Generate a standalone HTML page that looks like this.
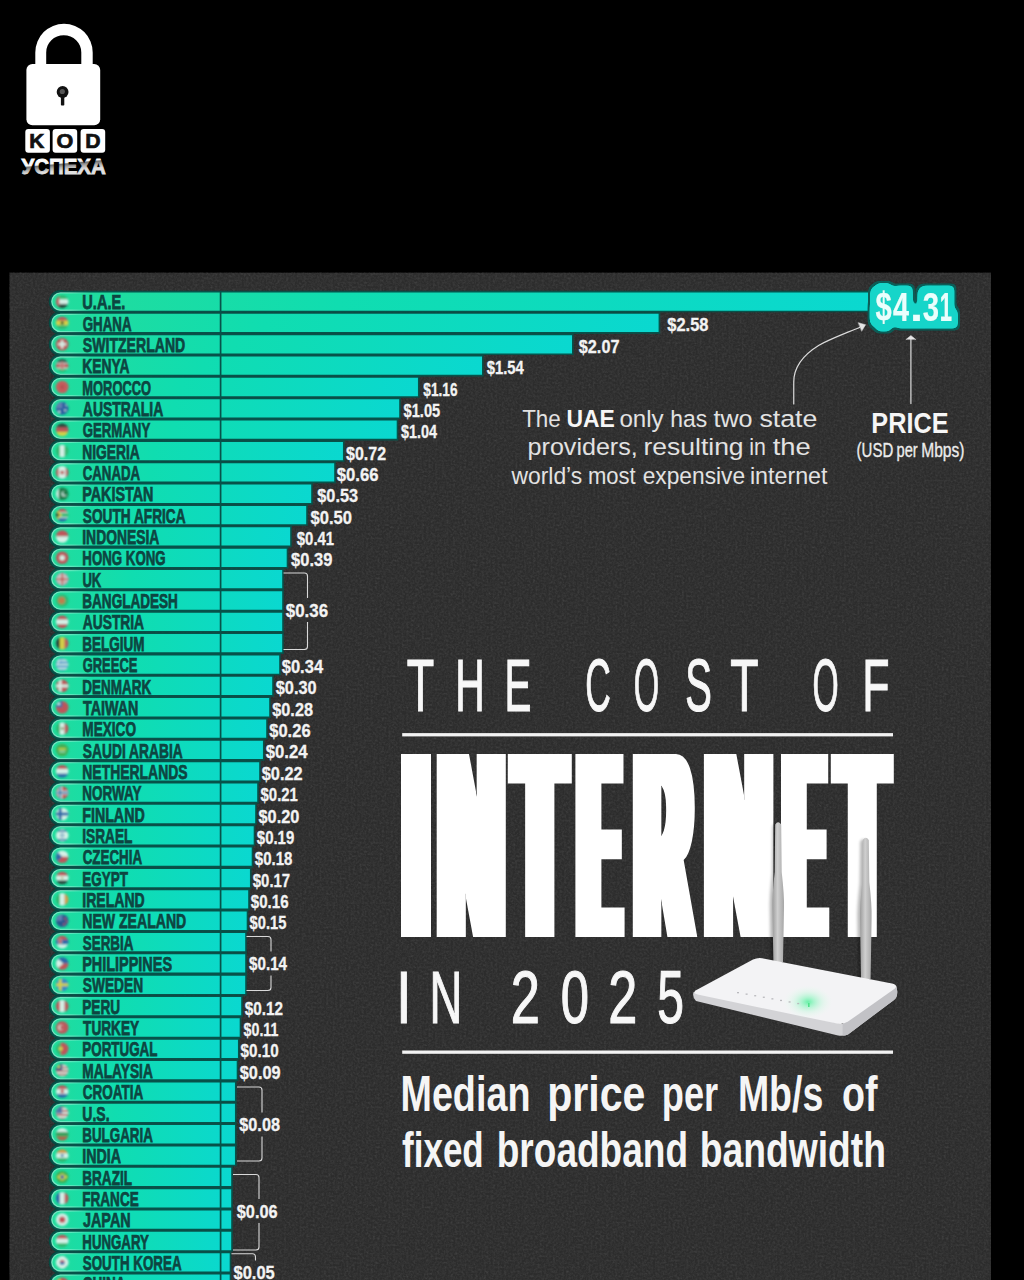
<!DOCTYPE html>
<html lang="en"><head><meta charset="utf-8"><title>The Cost of Internet in 2025</title>
<style>
html,body{margin:0;padding:0;background:#000;}
body{width:1024px;height:1280px;overflow:hidden;}
svg{display:block}
text{font-family:"Liberation Sans",sans-serif;}
.nm{font-weight:700;font-size:20.6px;fill:#0d4541;stroke:#0d4541;stroke-width:.75px;}
.vl{font-weight:700;font-size:18.4px;fill:#f3f3f3;stroke:#f3f3f3;stroke-width:.3px;}
</style></head><body>
<svg width="1024" height="1280" viewBox="0 0 1024 1280">
<defs>
<linearGradient id="bg" x1="0" y1="0" x2="1" y2="0">
<stop offset="0" stop-color="#22dc9c"/><stop offset=".35" stop-color="#10ddb0"/><stop offset="1" stop-color="#0ad8d0"/>
</linearGradient>
<clipPath id="fc"><circle r="6.3"/></clipPath>
<filter id="fb" x="-20%" y="-20%" width="140%" height="140%"><feGaussianBlur stdDeviation=".95"/></filter>
<filter id="noise" x="0" y="0" width="100%" height="100%"><feTurbulence type="fractalNoise" baseFrequency=".45" numOctaves="3" seed="3" result="n"/><feColorMatrix type="matrix" values="0 0 0 0 1  0 0 0 0 1  0 0 0 0 1  .35 .35 .35 0 -.42"/></filter>
<filter id="fat" filterUnits="userSpaceOnUse" x="380" y="740" width="540" height="210"><feMorphology operator="dilate" radius="9 0"/></filter>
<filter id="badge" filterUnits="userSpaceOnUse" x="850" y="268" width="130" height="80">
<feMorphology in="SourceAlpha" operator="dilate" radius="6 7" result="d"/>
<feGaussianBlur in="d" stdDeviation="2.4" result="b"/>
<feComponentTransfer in="b" result="t"><feFuncA type="linear" slope="9" intercept="-3.3"/></feComponentTransfer>
<feFlood flood-color="#16d5c9"/><feComposite in2="t" operator="in" result="cy"/>
<feMorphology in="t" operator="dilate" radius="1.6" result="t2"/>
<feGaussianBlur in="t2" stdDeviation=".5" result="t3"/>
<feFlood flood-color="#0a5b56"/><feComposite in2="t3" operator="in" result="dk"/>
<feMerge><feMergeNode in="dk"/><feMergeNode in="cy"/><feMergeNode in="SourceGraphic"/></feMerge>
</filter>
<linearGradient id="ug" gradientUnits="userSpaceOnUse" x1="62.8" y1="154.8" x2="64.2" y2="170.8"><stop offset="0" stop-color="#fff"/><stop offset=".5" stop-color="#f8f8f8"/><stop offset=".58" stop-color="#707070"/><stop offset=".78" stop-color="#b0b0b0"/><stop offset="1" stop-color="#e0e0e0"/></linearGradient>
<linearGradient id="rg" gradientUnits="userSpaceOnUse" x1="52" y1="0" x2="92" y2="0"><stop offset="0" stop-color="#fff" stop-opacity=".4"/><stop offset=".45" stop-color="#fff" stop-opacity=".3"/><stop offset="1" stop-color="#fff" stop-opacity="0"/></linearGradient>
<filter id="sh" x="-100%" y="-10%" width="300%" height="120%"><feGaussianBlur stdDeviation="1.6"/></filter>
<linearGradient id="ant" x1="0" y1="0" x2="1" y2="0"><stop offset="0" stop-color="#9c9c9c"/><stop offset=".45" stop-color="#cfcfcf"/><stop offset="1" stop-color="#a6a6a6"/></linearGradient>
<radialGradient id="glow"><stop offset="0" stop-color="#5af0a0" stop-opacity=".9"/><stop offset=".25" stop-color="#7df5b6" stop-opacity=".6"/><stop offset=".6" stop-color="#b8f9d6" stop-opacity=".3"/><stop offset="1" stop-color="#eafff2" stop-opacity="0"/></radialGradient>
</defs>
<rect width="1024" height="1280" fill="#000"/>
<g id="logo"><path d="M35.3,66V52.4A28.7,28.7 0 0 1 92.7,52.4V66H81.3V52.4A17.5,17.1 0 0 0 46.2,52.4V66Z" fill="#fff"/><rect x="26.4" y="64" width="73.8" height="61.2" rx="6" fill="#fff"/><circle cx="62.6" cy="92" r="5.9" fill="#111"/><circle cx="62.3" cy="91.6" r="2.6" fill="#555"/><rect x="60.9" y="94" width="3.4" height="11.6" rx=".8" fill="#111"/><rect x="25.3" y="128.9" width="24.6" height="23.9" rx="3" fill="#fff"/><rect x="52.6" y="128.9" width="24.6" height="23.9" rx="3" fill="#fff"/><rect x="80.6" y="128.9" width="24.6" height="23.9" rx="3" fill="#fff"/><text font-weight="700" font-size="20" fill="#111" stroke="#111" stroke-width=".7" y="147.9"><tspan x="29.30" textLength="15.09" lengthAdjust="spacingAndGlyphs">K</tspan><tspan x="56.51" textLength="16.79" lengthAdjust="spacingAndGlyphs">O</tspan><tspan x="85.18" textLength="15.31" lengthAdjust="spacingAndGlyphs">D</tspan></text><text font-weight="700" font-size="22.8" fill="url(#ug)" stroke="url(#ug)" stroke-width=".9" y="173.8"><tspan x="21.39" textLength="84.45" lengthAdjust="spacingAndGlyphs">УСПЕХА</tspan></text></g>
<rect x="9.5" y="272.7" width="981.5" height="1010" fill="#2c2c2c"/>
<rect x="9.5" y="272.7" width="981.5" height="1010" filter="url(#noise)" opacity=".24"/>

<g fill="none" stroke="#06473f" stroke-width="3.4">
<path d="M63.45,291.65H60.45A9.95,9.95 0 0 0 60.45,311.55H63.45"/>
<path d="M63.45,313.00H60.45A9.95,9.95 0 0 0 60.45,332.90H63.45"/>
<path d="M63.45,334.35H60.45A9.95,9.95 0 0 0 60.45,354.25H63.45"/>
<path d="M63.45,355.70H60.45A9.95,9.95 0 0 0 60.45,375.60H63.45"/>
<path d="M63.45,377.05H60.45A9.95,9.95 0 0 0 60.45,396.95H63.45"/>
<path d="M63.45,398.40H60.45A9.95,9.95 0 0 0 60.45,418.30H63.45"/>
<path d="M63.45,419.75H60.45A9.95,9.95 0 0 0 60.45,439.65H63.45"/>
<path d="M63.45,441.10H60.45A9.95,9.95 0 0 0 60.45,461.00H63.45"/>
<path d="M63.45,462.45H60.45A9.95,9.95 0 0 0 60.45,482.35H63.45"/>
<path d="M63.45,483.80H60.45A9.95,9.95 0 0 0 60.45,503.70H63.45"/>
<path d="M63.45,505.15H60.45A9.95,9.95 0 0 0 60.45,525.05H63.45"/>
<path d="M63.45,526.50H60.45A9.95,9.95 0 0 0 60.45,546.40H63.45"/>
<path d="M63.45,547.85H60.45A9.95,9.95 0 0 0 60.45,567.75H63.45"/>
<path d="M63.45,569.20H60.45A9.95,9.95 0 0 0 60.45,589.10H63.45"/>
<path d="M63.45,590.55H60.45A9.95,9.95 0 0 0 60.45,610.45H63.45"/>
<path d="M63.45,611.90H60.45A9.95,9.95 0 0 0 60.45,631.80H63.45"/>
<path d="M63.45,633.25H60.45A9.95,9.95 0 0 0 60.45,653.15H63.45"/>
<path d="M63.45,654.60H60.45A9.95,9.95 0 0 0 60.45,674.50H63.45"/>
<path d="M63.45,675.95H60.45A9.95,9.95 0 0 0 60.45,695.85H63.45"/>
<path d="M63.45,697.30H60.45A9.95,9.95 0 0 0 60.45,717.20H63.45"/>
<path d="M63.45,718.65H60.45A9.95,9.95 0 0 0 60.45,738.55H63.45"/>
<path d="M63.45,740.00H60.45A9.95,9.95 0 0 0 60.45,759.90H63.45"/>
<path d="M63.45,761.35H60.45A9.95,9.95 0 0 0 60.45,781.25H63.45"/>
<path d="M63.45,782.70H60.45A9.95,9.95 0 0 0 60.45,802.60H63.45"/>
<path d="M63.45,804.05H60.45A9.95,9.95 0 0 0 60.45,823.95H63.45"/>
<path d="M63.45,825.40H60.45A9.95,9.95 0 0 0 60.45,845.30H63.45"/>
<path d="M63.45,846.75H60.45A9.95,9.95 0 0 0 60.45,866.65H63.45"/>
<path d="M63.45,868.10H60.45A9.95,9.95 0 0 0 60.45,888.00H63.45"/>
<path d="M63.45,889.45H60.45A9.95,9.95 0 0 0 60.45,909.35H63.45"/>
<path d="M63.45,910.80H60.45A9.95,9.95 0 0 0 60.45,930.70H63.45"/>
<path d="M63.45,932.15H60.45A9.95,9.95 0 0 0 60.45,952.05H63.45"/>
<path d="M63.45,953.50H60.45A9.95,9.95 0 0 0 60.45,973.40H63.45"/>
<path d="M63.45,974.85H60.45A9.95,9.95 0 0 0 60.45,994.75H63.45"/>
<path d="M63.45,996.20H60.45A9.95,9.95 0 0 0 60.45,1016.10H63.45"/>
<path d="M63.45,1017.55H60.45A9.95,9.95 0 0 0 60.45,1037.45H63.45"/>
<path d="M63.45,1038.90H60.45A9.95,9.95 0 0 0 60.45,1058.80H63.45"/>
<path d="M63.45,1060.25H60.45A9.95,9.95 0 0 0 60.45,1080.15H63.45"/>
<path d="M63.45,1081.60H60.45A9.95,9.95 0 0 0 60.45,1101.50H63.45"/>
<path d="M63.45,1102.95H60.45A9.95,9.95 0 0 0 60.45,1122.85H63.45"/>
<path d="M63.45,1124.30H60.45A9.95,9.95 0 0 0 60.45,1144.20H63.45"/>
<path d="M63.45,1145.65H60.45A9.95,9.95 0 0 0 60.45,1165.55H63.45"/>
<path d="M63.45,1167.00H60.45A9.95,9.95 0 0 0 60.45,1186.90H63.45"/>
<path d="M63.45,1188.35H60.45A9.95,9.95 0 0 0 60.45,1208.25H63.45"/>
<path d="M63.45,1209.70H60.45A9.95,9.95 0 0 0 60.45,1229.60H63.45"/>
<path d="M63.45,1231.05H60.45A9.95,9.95 0 0 0 60.45,1250.95H63.45"/>
<path d="M63.45,1252.40H60.45A9.95,9.95 0 0 0 60.45,1272.30H63.45"/>
<path d="M63.45,1273.75H60.45A9.95,9.95 0 0 0 60.45,1293.65H63.45"/>
</g>
<g fill="url(#bg)" stroke="#07524a" stroke-width="1.6">
<path d="M60.45,291.65H872.00V311.55H60.45A9.95,9.95 0 0 1 60.45,291.65Z"/>
<path d="M60.45,313.00H659.40V332.90H60.45A9.95,9.95 0 0 1 60.45,313.00Z"/>
<path d="M60.45,334.35H572.80V354.25H60.45A9.95,9.95 0 0 1 60.45,334.35Z"/>
<path d="M60.45,355.70H482.80V375.60H60.45A9.95,9.95 0 0 1 60.45,355.70Z"/>
<path d="M60.45,377.05H418.75V396.95H60.45A9.95,9.95 0 0 1 60.45,377.05Z"/>
<path d="M60.45,398.40H400.00V418.30H60.45A9.95,9.95 0 0 1 60.45,398.40Z"/>
<path d="M60.45,419.75H397.50V439.65H60.45A9.95,9.95 0 0 1 60.45,419.75Z"/>
<path d="M60.45,441.10H343.75V461.00H60.45A9.95,9.95 0 0 1 60.45,441.10Z"/>
<path d="M60.45,462.45H335.00V482.35H60.45A9.95,9.95 0 0 1 60.45,462.45Z"/>
<path d="M60.45,483.80H312.00V503.70H60.45A9.95,9.95 0 0 1 60.45,483.80Z"/>
<path d="M60.45,505.15H307.00V525.05H60.45A9.95,9.95 0 0 1 60.45,505.15Z"/>
<path d="M60.45,526.50H291.00V546.40H60.45A9.95,9.95 0 0 1 60.45,526.50Z"/>
<path d="M60.45,547.85H287.50V567.75H60.45A9.95,9.95 0 0 1 60.45,547.85Z"/>
<path d="M60.45,569.20H283.00V589.10H60.45A9.95,9.95 0 0 1 60.45,569.20Z"/>
<path d="M60.45,590.55H283.00V610.45H60.45A9.95,9.95 0 0 1 60.45,590.55Z"/>
<path d="M60.45,611.90H283.00V631.80H60.45A9.95,9.95 0 0 1 60.45,611.90Z"/>
<path d="M60.45,633.25H283.00V653.15H60.45A9.95,9.95 0 0 1 60.45,633.25Z"/>
<path d="M60.45,654.60H280.00V674.50H60.45A9.95,9.95 0 0 1 60.45,654.60Z"/>
<path d="M60.45,675.95H273.00V695.85H60.45A9.95,9.95 0 0 1 60.45,675.95Z"/>
<path d="M60.45,697.30H270.00V717.20H60.45A9.95,9.95 0 0 1 60.45,697.30Z"/>
<path d="M60.45,718.65H267.00V738.55H60.45A9.95,9.95 0 0 1 60.45,718.65Z"/>
<path d="M60.45,740.00H263.75V759.90H60.45A9.95,9.95 0 0 1 60.45,740.00Z"/>
<path d="M60.45,761.35H260.00V781.25H60.45A9.95,9.95 0 0 1 60.45,761.35Z"/>
<path d="M60.45,782.70H258.00V802.60H60.45A9.95,9.95 0 0 1 60.45,782.70Z"/>
<path d="M60.45,804.05H256.00V823.95H60.45A9.95,9.95 0 0 1 60.45,804.05Z"/>
<path d="M60.45,825.40H254.50V845.30H60.45A9.95,9.95 0 0 1 60.45,825.40Z"/>
<path d="M60.45,846.75H252.50V866.65H60.45A9.95,9.95 0 0 1 60.45,846.75Z"/>
<path d="M60.45,868.10H250.75V888.00H60.45A9.95,9.95 0 0 1 60.45,868.10Z"/>
<path d="M60.45,889.45H249.00V909.35H60.45A9.95,9.95 0 0 1 60.45,889.45Z"/>
<path d="M60.45,910.80H247.50V930.70H60.45A9.95,9.95 0 0 1 60.45,910.80Z"/>
<path d="M60.45,932.15H246.00V952.05H60.45A9.95,9.95 0 0 1 60.45,932.15Z"/>
<path d="M60.45,953.50H246.00V973.40H60.45A9.95,9.95 0 0 1 60.45,953.50Z"/>
<path d="M60.45,974.85H246.00V994.75H60.45A9.95,9.95 0 0 1 60.45,974.85Z"/>
<path d="M60.45,996.20H242.00V1016.10H60.45A9.95,9.95 0 0 1 60.45,996.20Z"/>
<path d="M60.45,1017.55H240.50V1037.45H60.45A9.95,9.95 0 0 1 60.45,1017.55Z"/>
<path d="M60.45,1038.90H238.75V1058.80H60.45A9.95,9.95 0 0 1 60.45,1038.90Z"/>
<path d="M60.45,1060.25H237.50V1080.15H60.45A9.95,9.95 0 0 1 60.45,1060.25Z"/>
<path d="M60.45,1081.60H235.75V1101.50H60.45A9.95,9.95 0 0 1 60.45,1081.60Z"/>
<path d="M60.45,1102.95H235.75V1122.85H60.45A9.95,9.95 0 0 1 60.45,1102.95Z"/>
<path d="M60.45,1124.30H235.75V1144.20H60.45A9.95,9.95 0 0 1 60.45,1124.30Z"/>
<path d="M60.45,1145.65H235.75V1165.55H60.45A9.95,9.95 0 0 1 60.45,1145.65Z"/>
<path d="M60.45,1167.00H232.00V1186.90H60.45A9.95,9.95 0 0 1 60.45,1167.00Z"/>
<path d="M60.45,1188.35H232.00V1208.25H60.45A9.95,9.95 0 0 1 60.45,1188.35Z"/>
<path d="M60.45,1209.70H232.00V1229.60H60.45A9.95,9.95 0 0 1 60.45,1209.70Z"/>
<path d="M60.45,1231.05H232.00V1250.95H60.45A9.95,9.95 0 0 1 60.45,1231.05Z"/>
<path d="M60.45,1252.40H230.50V1272.30H60.45A9.95,9.95 0 0 1 60.45,1252.40Z"/>
<path d="M60.45,1273.75H230.50V1293.65H60.45A9.95,9.95 0 0 1 60.45,1273.75Z"/>
</g>
<g fill="none" stroke="url(#rg)" stroke-width="1.3">
<path d="M92.45,292.95H60.45A8.65,8.65 0 0 0 60.45,310.25H92.45"/>
<path d="M92.45,314.30H60.45A8.65,8.65 0 0 0 60.45,331.60H92.45"/>
<path d="M92.45,335.65H60.45A8.65,8.65 0 0 0 60.45,352.95H92.45"/>
<path d="M92.45,357.00H60.45A8.65,8.65 0 0 0 60.45,374.30H92.45"/>
<path d="M92.45,378.35H60.45A8.65,8.65 0 0 0 60.45,395.65H92.45"/>
<path d="M92.45,399.70H60.45A8.65,8.65 0 0 0 60.45,417.00H92.45"/>
<path d="M92.45,421.05H60.45A8.65,8.65 0 0 0 60.45,438.35H92.45"/>
<path d="M92.45,442.40H60.45A8.65,8.65 0 0 0 60.45,459.70H92.45"/>
<path d="M92.45,463.75H60.45A8.65,8.65 0 0 0 60.45,481.05H92.45"/>
<path d="M92.45,485.10H60.45A8.65,8.65 0 0 0 60.45,502.40H92.45"/>
<path d="M92.45,506.45H60.45A8.65,8.65 0 0 0 60.45,523.75H92.45"/>
<path d="M92.45,527.80H60.45A8.65,8.65 0 0 0 60.45,545.10H92.45"/>
<path d="M92.45,549.15H60.45A8.65,8.65 0 0 0 60.45,566.45H92.45"/>
<path d="M92.45,570.50H60.45A8.65,8.65 0 0 0 60.45,587.80H92.45"/>
<path d="M92.45,591.85H60.45A8.65,8.65 0 0 0 60.45,609.15H92.45"/>
<path d="M92.45,613.20H60.45A8.65,8.65 0 0 0 60.45,630.50H92.45"/>
<path d="M92.45,634.55H60.45A8.65,8.65 0 0 0 60.45,651.85H92.45"/>
<path d="M92.45,655.90H60.45A8.65,8.65 0 0 0 60.45,673.20H92.45"/>
<path d="M92.45,677.25H60.45A8.65,8.65 0 0 0 60.45,694.55H92.45"/>
<path d="M92.45,698.60H60.45A8.65,8.65 0 0 0 60.45,715.90H92.45"/>
<path d="M92.45,719.95H60.45A8.65,8.65 0 0 0 60.45,737.25H92.45"/>
<path d="M92.45,741.30H60.45A8.65,8.65 0 0 0 60.45,758.60H92.45"/>
<path d="M92.45,762.65H60.45A8.65,8.65 0 0 0 60.45,779.95H92.45"/>
<path d="M92.45,784.00H60.45A8.65,8.65 0 0 0 60.45,801.30H92.45"/>
<path d="M92.45,805.35H60.45A8.65,8.65 0 0 0 60.45,822.65H92.45"/>
<path d="M92.45,826.70H60.45A8.65,8.65 0 0 0 60.45,844.00H92.45"/>
<path d="M92.45,848.05H60.45A8.65,8.65 0 0 0 60.45,865.35H92.45"/>
<path d="M92.45,869.40H60.45A8.65,8.65 0 0 0 60.45,886.70H92.45"/>
<path d="M92.45,890.75H60.45A8.65,8.65 0 0 0 60.45,908.05H92.45"/>
<path d="M92.45,912.10H60.45A8.65,8.65 0 0 0 60.45,929.40H92.45"/>
<path d="M92.45,933.45H60.45A8.65,8.65 0 0 0 60.45,950.75H92.45"/>
<path d="M92.45,954.80H60.45A8.65,8.65 0 0 0 60.45,972.10H92.45"/>
<path d="M92.45,976.15H60.45A8.65,8.65 0 0 0 60.45,993.45H92.45"/>
<path d="M92.45,997.50H60.45A8.65,8.65 0 0 0 60.45,1014.80H92.45"/>
<path d="M92.45,1018.85H60.45A8.65,8.65 0 0 0 60.45,1036.15H92.45"/>
<path d="M92.45,1040.20H60.45A8.65,8.65 0 0 0 60.45,1057.50H92.45"/>
<path d="M92.45,1061.55H60.45A8.65,8.65 0 0 0 60.45,1078.85H92.45"/>
<path d="M92.45,1082.90H60.45A8.65,8.65 0 0 0 60.45,1100.20H92.45"/>
<path d="M92.45,1104.25H60.45A8.65,8.65 0 0 0 60.45,1121.55H92.45"/>
<path d="M92.45,1125.60H60.45A8.65,8.65 0 0 0 60.45,1142.90H92.45"/>
<path d="M92.45,1146.95H60.45A8.65,8.65 0 0 0 60.45,1164.25H92.45"/>
<path d="M92.45,1168.30H60.45A8.65,8.65 0 0 0 60.45,1185.60H92.45"/>
<path d="M92.45,1189.65H60.45A8.65,8.65 0 0 0 60.45,1206.95H92.45"/>
<path d="M92.45,1211.00H60.45A8.65,8.65 0 0 0 60.45,1228.30H92.45"/>
<path d="M92.45,1232.35H60.45A8.65,8.65 0 0 0 60.45,1249.65H92.45"/>
<path d="M92.45,1253.70H60.45A8.65,8.65 0 0 0 60.45,1271.00H92.45"/>
<path d="M92.45,1275.05H60.45A8.65,8.65 0 0 0 60.45,1292.35H92.45"/>
</g>
<rect x="219.75" y="291.3" width="1.7" height="1000" fill="#07524a"/>
<g filter="url(#fb)" opacity=".86">
<g transform="translate(62.2,301.60)" clip-path="url(#fc)"><rect x="-7" y="-7.00" width="14" height="4.97" fill="#35b06a"/><rect x="-7" y="-2.33" width="14" height="4.97" fill="#f4f4f4"/><rect x="-7" y="2.33" width="14" height="4.97" fill="#2a2a2a"/><rect x="-7" y="-7" width="4" height="14" fill="#d8404f"/></g>
<g transform="translate(62.2,322.95)" clip-path="url(#fc)"><rect x="-7" y="-7.00" width="14" height="4.97" fill="#d8404f"/><rect x="-7" y="-2.33" width="14" height="4.97" fill="#f2cf3a"/><rect x="-7" y="2.33" width="14" height="4.97" fill="#35b06a"/><circle r="1.6" fill="#2a2a2a"/></g>
<g transform="translate(62.2,344.30)" clip-path="url(#fc)"><rect x="-7" y="-7" width="14" height="14" fill="#d8404f"/><circle cx="0" cy="0" r="3.2" fill="#d8404f"/><rect x="-1.2" y="-4" width="2.4" height="8" fill="#f4f4f4"/><rect x="-4" y="-1.2" width="8" height="2.4" fill="#f4f4f4"/></g>
<g transform="translate(62.2,365.65)" clip-path="url(#fc)"><rect x="-7" y="-7.00" width="14" height="4.26" fill="#2a2a2a"/><rect x="-7" y="-3.04" width="14" height="1.36" fill="#f4f4f4"/><rect x="-7" y="-1.98" width="14" height="4.26" fill="#d8404f"/><rect x="-7" y="1.98" width="14" height="1.36" fill="#f4f4f4"/><rect x="-7" y="3.04" width="14" height="4.26" fill="#35b06a"/><ellipse rx="1.6" ry="4" fill="#d8404f" stroke="#f4f4f4" stroke-width=".6"/></g>
<g transform="translate(62.2,387.00)" clip-path="url(#fc)"><rect x="-7" y="-7" width="14" height="14" fill="#e04a52"/><circle cx="0" cy="0" r="2.2" fill="#d03a48"/></g>
<g transform="translate(62.2,408.35)" clip-path="url(#fc)"><rect x="-7" y="-7" width="14" height="14" fill="#2b4aa0"/><circle cx="0" cy="0" r="3.2" fill="#2b4aa0"/><rect x="-7" y="-7" width="7" height="7" fill="#6d6fb5"/><circle cx="3" cy="2" r="1" fill="#f4f4f4"/><circle cx="-3" cy="3.5" r="1.2" fill="#f4f4f4"/><circle cx="4" cy="-3" r=".8" fill="#f4f4f4"/></g>
<g transform="translate(62.2,429.70)" clip-path="url(#fc)"><rect x="-7" y="-7.00" width="14" height="4.97" fill="#2a2a2a"/><rect x="-7" y="-2.33" width="14" height="4.97" fill="#d8404f"/><rect x="-7" y="2.33" width="14" height="4.97" fill="#f2cf3a"/></g>
<g transform="translate(62.2,451.05)" clip-path="url(#fc)"><rect x="-7.00" y="-7" width="4.97" height="14" fill="#35b06a"/><rect x="-2.33" y="-7" width="4.97" height="14" fill="#f4f4f4"/><rect x="2.33" y="-7" width="4.97" height="14" fill="#35b06a"/></g>
<g transform="translate(62.2,472.40)" clip-path="url(#fc)"><rect x="-7.00" y="-7" width="3.80" height="14" fill="#d8404f"/><rect x="-3.50" y="-7" width="7.30" height="14" fill="#f4f4f4"/><rect x="3.50" y="-7" width="3.80" height="14" fill="#d8404f"/><circle r="2" fill="#d8404f"/></g>
<g transform="translate(62.2,493.75)" clip-path="url(#fc)"><rect x="-7.00" y="-7" width="3.80" height="14" fill="#f4f4f4"/><rect x="-3.50" y="-7" width="10.80" height="14" fill="#1f6b3c"/><circle cx="2" r="2.6" fill="#f4f4f4"/><circle cx="3" cy="-.6" r="2.2" fill="#1f6b3c"/></g>
<g transform="translate(62.2,515.10)" clip-path="url(#fc)"><rect x="-7" y="-7.00" width="14" height="4.50" fill="#d8404f"/><rect x="-7" y="-2.80" width="14" height="1.28" fill="#f4f4f4"/><rect x="-7" y="-1.82" width="14" height="3.94" fill="#35b06a"/><rect x="-7" y="1.82" width="14" height="1.28" fill="#f4f4f4"/><rect x="-7" y="2.80" width="14" height="4.50" fill="#2f55a8"/><path d="M-7,-7L0,0L-7,7Z" fill="#f2cf3a"/><path d="M-7,-4.5L-2.5,0L-7,4.5Z" fill="#2a2a2a"/></g>
<g transform="translate(62.2,536.45)" clip-path="url(#fc)"><rect x="-7" y="-7.00" width="14" height="7.30" fill="#d8404f"/><rect x="-7" y="0.00" width="14" height="7.30" fill="#f4f4f4"/></g>
<g transform="translate(62.2,557.80)" clip-path="url(#fc)"><rect x="-7" y="-7" width="14" height="14" fill="#d8404f"/><circle cx="0" cy="0" r="2.6" fill="#f4f4f4"/></g>
<g transform="translate(62.2,579.15)" clip-path="url(#fc)"><rect x="-7" y="-7" width="14" height="14" fill="#5a6ab0"/><path d="M-7,-7L7,7M-7,7L7,-7" stroke="#f4f4f4" stroke-width="3"/><path d="M-7,-7L7,7M-7,7L7,-7" stroke="#d8404f" stroke-width="1.2"/><rect x="-2" y="-7" width="4" height="14" fill="#f4f4f4"/><rect x="-7" y="-2" width="14" height="4" fill="#f4f4f4"/><rect x="-1.1" y="-7" width="2.2" height="14" fill="#d8404f"/><rect x="-7" y="-1.1" width="14" height="2.2" fill="#d8404f"/></g>
<g transform="translate(62.2,600.50)" clip-path="url(#fc)"><rect x="-7" y="-7" width="14" height="14" fill="#35b06a"/><circle cx="-0.6" cy="0" r="3.4" fill="#d8703f"/></g>
<g transform="translate(62.2,621.85)" clip-path="url(#fc)"><rect x="-7" y="-7.00" width="14" height="4.97" fill="#d8404f"/><rect x="-7" y="-2.33" width="14" height="4.97" fill="#f4f4f4"/><rect x="-7" y="2.33" width="14" height="4.97" fill="#d8404f"/></g>
<g transform="translate(62.2,643.20)" clip-path="url(#fc)"><rect x="-7.00" y="-7" width="4.97" height="14" fill="#2a2a2a"/><rect x="-2.33" y="-7" width="4.97" height="14" fill="#f2cf3a"/><rect x="2.33" y="-7" width="4.97" height="14" fill="#d8404f"/></g>
<g transform="translate(62.2,664.55)" clip-path="url(#fc)"><rect x="-7" y="-7.00" width="14" height="2.30" fill="#4a7fd0"/><rect x="-7" y="-5.00" width="14" height="2.30" fill="#f4f4f4"/><rect x="-7" y="-3.00" width="14" height="2.30" fill="#4a7fd0"/><rect x="-7" y="-1.00" width="14" height="2.30" fill="#f4f4f4"/><rect x="-7" y="1.00" width="14" height="2.30" fill="#4a7fd0"/><rect x="-7" y="3.00" width="14" height="2.30" fill="#f4f4f4"/><rect x="-7" y="5.00" width="14" height="2.30" fill="#4a7fd0"/><rect x="-7" y="-7" width="6" height="6.2" fill="#4a7fd0"/><rect x="-4.7" y="-7" width="1.4" height="6.2" fill="#f4f4f4"/><rect x="-7" y="-4.6" width="6" height="1.4" fill="#f4f4f4"/></g>
<g transform="translate(62.2,685.90)" clip-path="url(#fc)"><rect x="-7" y="-7" width="14" height="14" fill="#d8404f"/><rect x="-3.3" y="-7" width="2.6" height="14" fill="#f4f4f4"/><rect x="-7" y="-1.3" width="14" height="2.6" fill="#f4f4f4"/></g>
<g transform="translate(62.2,707.25)" clip-path="url(#fc)"><rect x="-7" y="-7" width="14" height="14" fill="#d8404f"/><circle cx="0" cy="0" r="3.2" fill="#d8404f"/><rect x="-7" y="-7" width="7" height="7" fill="#2f55a8"/><circle cx="-3.5" cy="-3.5" r="1.6" fill="#f4f4f4"/></g>
<g transform="translate(62.2,728.60)" clip-path="url(#fc)"><rect x="-7.00" y="-7" width="4.97" height="14" fill="#35b06a"/><rect x="-2.33" y="-7" width="4.97" height="14" fill="#f4f4f4"/><rect x="2.33" y="-7" width="4.97" height="14" fill="#d8404f"/><circle r="1.4" fill="#9a7a3a"/></g>
<g transform="translate(62.2,749.95)" clip-path="url(#fc)"><rect x="-7" y="-7" width="14" height="14" fill="#4aa84a"/><circle cx="0" cy="0" r="3.2" fill="#4aa84a"/><rect x="-3.6" y="-1.8" width="7.2" height="1.8" fill="#f2cf3a" opacity=".9"/><rect x="-3" y="1.4" width="6" height=".9" fill="#f4f4f4"/></g>
<g transform="translate(62.2,771.30)" clip-path="url(#fc)"><rect x="-7" y="-7.00" width="14" height="4.97" fill="#d8404f"/><rect x="-7" y="-2.33" width="14" height="4.97" fill="#f4f4f4"/><rect x="-7" y="2.33" width="14" height="4.97" fill="#2f55a8"/></g>
<g transform="translate(62.2,792.65)" clip-path="url(#fc)"><rect x="-7" y="-7" width="14" height="14" fill="#d8404f"/><rect x="-3.8" y="-7" width="3.6" height="14" fill="#f4f4f4"/><rect x="-7" y="-1.8" width="14" height="3.6" fill="#f4f4f4"/><rect x="-2.81" y="-7" width="1.62" height="14" fill="#2f55a8"/><rect x="-7" y="-0.81" width="14" height="1.62" fill="#2f55a8"/></g>
<g transform="translate(62.2,814.00)" clip-path="url(#fc)"><rect x="-7" y="-7" width="14" height="14" fill="#f4f4f4"/><rect x="-3.5" y="-7" width="3" height="14" fill="#2f55a8"/><rect x="-7" y="-1.5" width="14" height="3" fill="#2f55a8"/></g>
<g transform="translate(62.2,835.35)" clip-path="url(#fc)"><rect x="-7" y="-7.00" width="14" height="2.01" fill="#f4f4f4"/><rect x="-7" y="-5.29" width="14" height="2.01" fill="#2f55a8"/><rect x="-7" y="-3.57" width="14" height="7.44" fill="#f4f4f4"/><rect x="-7" y="3.57" width="14" height="2.01" fill="#2f55a8"/><rect x="-7" y="5.29" width="14" height="2.01" fill="#f4f4f4"/><circle r="1.6" fill="none" stroke="#2f55a8" stroke-width=".8"/></g>
<g transform="translate(62.2,856.70)" clip-path="url(#fc)"><rect x="-7" y="-7.00" width="14" height="7.30" fill="#f4f4f4"/><rect x="-7" y="0.00" width="14" height="7.30" fill="#d8404f"/><path d="M-7,-7L0,0L-7,7Z" fill="#2f55a8"/></g>
<g transform="translate(62.2,878.05)" clip-path="url(#fc)"><rect x="-7" y="-7.00" width="14" height="4.97" fill="#d8404f"/><rect x="-7" y="-2.33" width="14" height="4.97" fill="#f4f4f4"/><rect x="-7" y="2.33" width="14" height="4.97" fill="#2a2a2a"/><circle r="1.1" fill="#c9a23a"/></g>
<g transform="translate(62.2,899.40)" clip-path="url(#fc)"><rect x="-7.00" y="-7" width="4.97" height="14" fill="#35b06a"/><rect x="-2.33" y="-7" width="4.97" height="14" fill="#f4f4f4"/><rect x="2.33" y="-7" width="4.97" height="14" fill="#f0913a"/></g>
<g transform="translate(62.2,920.75)" clip-path="url(#fc)"><rect x="-7" y="-7" width="14" height="14" fill="#2b3f8a"/><circle cx="0" cy="0" r="3.2" fill="#2b3f8a"/><rect x="-7" y="-7" width="7" height="7" fill="#6d6fb5"/><circle cx="3" cy="-2" r="1" fill="#d8404f"/><circle cx="4.5" cy="1" r="1" fill="#d8404f"/><circle cx="2" cy="3.5" r="1" fill="#d8404f"/></g>
<g transform="translate(62.2,942.10)" clip-path="url(#fc)"><rect x="-7" y="-7.00" width="14" height="4.97" fill="#d8404f"/><rect x="-7" y="-2.33" width="14" height="4.97" fill="#2f55a8"/><rect x="-7" y="2.33" width="14" height="4.97" fill="#f4f4f4"/><ellipse cx="-2" cy="-.5" rx="1.8" ry="2.6" fill="#d8404f" stroke="#f4f4f4" stroke-width=".5"/></g>
<g transform="translate(62.2,963.45)" clip-path="url(#fc)"><rect x="-7" y="-7.00" width="14" height="7.30" fill="#2f55a8"/><rect x="-7" y="0.00" width="14" height="7.30" fill="#d8404f"/><path d="M-7,-7L1,0L-7,7Z" fill="#f4f4f4"/></g>
<g transform="translate(62.2,984.80)" clip-path="url(#fc)"><rect x="-7" y="-7" width="14" height="14" fill="#3f78c8"/><rect x="-3.4" y="-7" width="2.8" height="14" fill="#f2cf3a"/><rect x="-7" y="-1.4" width="14" height="2.8" fill="#f2cf3a"/></g>
<g transform="translate(62.2,1006.15)" clip-path="url(#fc)"><rect x="-7.00" y="-7" width="4.97" height="14" fill="#d8404f"/><rect x="-2.33" y="-7" width="4.97" height="14" fill="#f4f4f4"/><rect x="2.33" y="-7" width="4.97" height="14" fill="#d8404f"/></g>
<g transform="translate(62.2,1027.50)" clip-path="url(#fc)"><rect x="-7" y="-7" width="14" height="14" fill="#d8404f"/><circle cx="-1" cy="0" r="2.8" fill="#f4f4f4"/><circle cx="-.2" r="2.2" fill="#d8404f"/></g>
<g transform="translate(62.2,1048.85)" clip-path="url(#fc)"><rect x="-7.00" y="-7" width="5.90" height="14" fill="#35b06a"/><rect x="-1.40" y="-7" width="8.70" height="14" fill="#d8404f"/><circle cx="-1.4" r="2" fill="#f2cf3a"/></g>
<g transform="translate(62.2,1070.20)" clip-path="url(#fc)"><rect x="-7" y="-7.00" width="14" height="2.05" fill="#d8404f"/><rect x="-7" y="-5.25" width="14" height="2.05" fill="#f4f4f4"/><rect x="-7" y="-3.50" width="14" height="2.05" fill="#d8404f"/><rect x="-7" y="-1.75" width="14" height="2.05" fill="#f4f4f4"/><rect x="-7" y="0.00" width="14" height="2.05" fill="#d8404f"/><rect x="-7" y="1.75" width="14" height="2.05" fill="#f4f4f4"/><rect x="-7" y="3.50" width="14" height="2.05" fill="#d8404f"/><rect x="-7" y="5.25" width="14" height="2.05" fill="#f4f4f4"/><rect x="-7" y="-7" width="7" height="7" fill="#2b3f8a"/><circle cx="-3.5" cy="-3.5" r="1.6" fill="#f2cf3a"/></g>
<g transform="translate(62.2,1091.55)" clip-path="url(#fc)"><rect x="-7" y="-7.00" width="14" height="4.97" fill="#d8404f"/><rect x="-7" y="-2.33" width="14" height="4.97" fill="#f4f4f4"/><rect x="-7" y="2.33" width="14" height="4.97" fill="#2f55a8"/><rect x="-1.8" y="-2.4" width="3.6" height="4.2" fill="#d8404f" stroke="#f4f4f4" stroke-width=".5"/></g>
<g transform="translate(62.2,1112.90)" clip-path="url(#fc)"><rect x="-7" y="-7.00" width="14" height="2.30" fill="#d8404f"/><rect x="-7" y="-5.00" width="14" height="2.30" fill="#f4f4f4"/><rect x="-7" y="-3.00" width="14" height="2.30" fill="#d8404f"/><rect x="-7" y="-1.00" width="14" height="2.30" fill="#f4f4f4"/><rect x="-7" y="1.00" width="14" height="2.30" fill="#d8404f"/><rect x="-7" y="3.00" width="14" height="2.30" fill="#f4f4f4"/><rect x="-7" y="5.00" width="14" height="2.30" fill="#d8404f"/><rect x="-7" y="-7" width="7" height="7.5" fill="#5a62a8"/></g>
<g transform="translate(62.2,1134.25)" clip-path="url(#fc)"><rect x="-7" y="-7.00" width="14" height="4.97" fill="#f4f4f4"/><rect x="-7" y="-2.33" width="14" height="4.97" fill="#3f9a55"/><rect x="-7" y="2.33" width="14" height="4.97" fill="#c8503f"/></g>
<g transform="translate(62.2,1155.60)" clip-path="url(#fc)"><rect x="-7" y="-7.00" width="14" height="4.97" fill="#f0913a"/><rect x="-7" y="-2.33" width="14" height="4.97" fill="#f4f4f4"/><rect x="-7" y="2.33" width="14" height="4.97" fill="#35b06a"/><circle r="1.4" fill="#3f4fa8"/></g>
<g transform="translate(62.2,1176.95)" clip-path="url(#fc)"><rect x="-7" y="-7" width="14" height="14" fill="#3fa84a"/><circle cx="0" cy="0" r="3.2" fill="#3fa84a"/><path d="M-5.5,0L0,-3.8L5.5,0L0,3.8Z" fill="#f2cf3a"/><circle r="2" fill="#3f55a8"/></g>
<g transform="translate(62.2,1198.30)" clip-path="url(#fc)"><rect x="-7.00" y="-7" width="4.97" height="14" fill="#2f55a8"/><rect x="-2.33" y="-7" width="4.97" height="14" fill="#f4f4f4"/><rect x="2.33" y="-7" width="4.97" height="14" fill="#d8404f"/></g>
<g transform="translate(62.2,1219.65)" clip-path="url(#fc)"><rect x="-7" y="-7" width="14" height="14" fill="#f4f4f4"/><circle cx="0" cy="0" r="3.2" fill="#d83a4f"/></g>
<g transform="translate(62.2,1241.00)" clip-path="url(#fc)"><rect x="-7" y="-7.00" width="14" height="4.97" fill="#d8404f"/><rect x="-7" y="-2.33" width="14" height="4.97" fill="#f4f4f4"/><rect x="-7" y="2.33" width="14" height="4.97" fill="#35b06a"/></g>
<g transform="translate(62.2,1262.35)" clip-path="url(#fc)"><rect x="-7" y="-7" width="14" height="14" fill="#f4f4f4"/><circle cx="0" cy="0" r="3.2" fill="#f4f4f4"/><path d="M-2.6,0A2.6,2.6 0 0 1 2.6,0Z" fill="#d8404f"/><path d="M-2.6,0A2.6,2.6 0 0 0 2.6,0Z" fill="#2f55a8"/><path d="M-5,-4l2,-1.6M3,5.6l2,-1.6M-5,4l2,1.6M3,-5.6l2,1.6" stroke="#2a2a2a" stroke-width="1"/></g>
<g transform="translate(62.2,1283.70)" clip-path="url(#fc)"><rect x="-7" y="-7" width="14" height="14" fill="#d8404f"/><circle cx="0" cy="0" r="3.2" fill="#d8404f"/><circle cx="-3" cy="-3" r="1.6" fill="#f2cf3a"/></g>
</g>
<g class="nm">
<text y="309.20"><tspan x="82.33" textLength="42.88" lengthAdjust="spacingAndGlyphs">U.A.E.</tspan></text>
<text y="330.55"><tspan x="82.65" textLength="48.90" lengthAdjust="spacingAndGlyphs">GHANA</tspan></text>
<text y="351.90"><tspan x="82.79" textLength="102.50" lengthAdjust="spacingAndGlyphs">SWITZERLAND</tspan></text>
<text y="373.25"><tspan x="82.30" textLength="47.26" lengthAdjust="spacingAndGlyphs">KENYA</tspan></text>
<text y="394.60"><tspan x="82.34" textLength="68.80" lengthAdjust="spacingAndGlyphs">MOROCCO</tspan></text>
<text y="415.95"><tspan x="82.85" textLength="80.41" lengthAdjust="spacingAndGlyphs">AUSTRALIA</tspan></text>
<text y="437.30"><tspan x="82.66" textLength="67.56" lengthAdjust="spacingAndGlyphs">GERMANY</tspan></text>
<text y="458.65"><tspan x="82.28" textLength="57.59" lengthAdjust="spacingAndGlyphs">NIGERIA</tspan></text>
<text y="480.00"><tspan x="82.66" textLength="57.49" lengthAdjust="spacingAndGlyphs">CANADA</tspan></text>
<text y="501.35"><tspan x="82.27" textLength="71.17" lengthAdjust="spacingAndGlyphs">PAKISTAN</tspan></text>
<text y="522.70"><tspan x="82.81" textLength="102.75" lengthAdjust="spacingAndGlyphs">SOUTH AFRICA</tspan></text>
<text y="544.05"><tspan x="82.27" textLength="77.09" lengthAdjust="spacingAndGlyphs">INDONESIA</tspan></text>
<text y="565.40"><tspan x="82.31" textLength="83.31" lengthAdjust="spacingAndGlyphs">HONG KONG</tspan></text>
<text y="586.75"><tspan x="82.41" textLength="18.91" lengthAdjust="spacingAndGlyphs">UK</tspan></text>
<text y="608.10"><tspan x="82.29" textLength="95.62" lengthAdjust="spacingAndGlyphs">BANGLADESH</tspan></text>
<text y="629.45"><tspan x="82.86" textLength="61.21" lengthAdjust="spacingAndGlyphs">AUSTRIA</tspan></text>
<text y="650.80"><tspan x="82.30" textLength="62.31" lengthAdjust="spacingAndGlyphs">BELGIUM</tspan></text>
<text y="672.15"><tspan x="82.67" textLength="54.74" lengthAdjust="spacingAndGlyphs">GREECE</tspan></text>
<text y="693.50"><tspan x="82.30" textLength="69.03" lengthAdjust="spacingAndGlyphs">DENMARK</tspan></text>
<text y="714.85"><tspan x="83.04" textLength="55.39" lengthAdjust="spacingAndGlyphs">TAIWAN</tspan></text>
<text y="736.20"><tspan x="82.29" textLength="53.78" lengthAdjust="spacingAndGlyphs">MEXICO</tspan></text>
<text y="757.55"><tspan x="82.80" textLength="99.96" lengthAdjust="spacingAndGlyphs">SAUDI ARABIA</tspan></text>
<text y="778.90"><tspan x="82.27" textLength="105.38" lengthAdjust="spacingAndGlyphs">NETHERLANDS</tspan></text>
<text y="800.25"><tspan x="82.33" textLength="59.28" lengthAdjust="spacingAndGlyphs">NORWAY</tspan></text>
<text y="821.60"><tspan x="82.25" textLength="62.45" lengthAdjust="spacingAndGlyphs">FINLAND</tspan></text>
<text y="842.95"><tspan x="82.29" textLength="50.14" lengthAdjust="spacingAndGlyphs">ISRAEL</tspan></text>
<text y="864.30"><tspan x="82.65" textLength="59.50" lengthAdjust="spacingAndGlyphs">CZECHIA</tspan></text>
<text y="885.65"><tspan x="82.30" textLength="45.54" lengthAdjust="spacingAndGlyphs">EGYPT</tspan></text>
<text y="907.00"><tspan x="82.26" textLength="62.43" lengthAdjust="spacingAndGlyphs">IRELAND</tspan></text>
<text y="928.35"><tspan x="82.26" textLength="104.03" lengthAdjust="spacingAndGlyphs">NEW ZEALAND</tspan></text>
<text y="949.70"><tspan x="82.81" textLength="50.54" lengthAdjust="spacingAndGlyphs">SERBIA</tspan></text>
<text y="971.05"><tspan x="82.23" textLength="89.83" lengthAdjust="spacingAndGlyphs">PHILIPPINES</tspan></text>
<text y="992.40"><tspan x="82.80" textLength="60.32" lengthAdjust="spacingAndGlyphs">SWEDEN</tspan></text>
<text y="1013.75"><tspan x="82.29" textLength="37.84" lengthAdjust="spacingAndGlyphs">PERU</tspan></text>
<text y="1035.10"><tspan x="83.05" textLength="56.07" lengthAdjust="spacingAndGlyphs">TURKEY</tspan></text>
<text y="1056.45"><tspan x="82.30" textLength="75.11" lengthAdjust="spacingAndGlyphs">PORTUGAL</tspan></text>
<text y="1077.80"><tspan x="82.30" textLength="70.56" lengthAdjust="spacingAndGlyphs">MALAYSIA</tspan></text>
<text y="1099.15"><tspan x="82.66" textLength="60.49" lengthAdjust="spacingAndGlyphs">CROATIA</tspan></text>
<text y="1120.50"><tspan x="82.36" textLength="27.20" lengthAdjust="spacingAndGlyphs">U.S.</tspan></text>
<text y="1141.85"><tspan x="82.31" textLength="70.55" lengthAdjust="spacingAndGlyphs">BULGARIA</tspan></text>
<text y="1163.20"><tspan x="82.25" textLength="38.83" lengthAdjust="spacingAndGlyphs">INDIA</tspan></text>
<text y="1184.55"><tspan x="82.29" textLength="49.72" lengthAdjust="spacingAndGlyphs">BRAZIL</tspan></text>
<text y="1205.90"><tspan x="82.29" textLength="56.44" lengthAdjust="spacingAndGlyphs">FRANCE</tspan></text>
<text y="1227.25"><tspan x="82.99" textLength="47.66" lengthAdjust="spacingAndGlyphs">JAPAN</tspan></text>
<text y="1248.60"><tspan x="82.32" textLength="66.49" lengthAdjust="spacingAndGlyphs">HUNGARY</tspan></text>
<text y="1269.95"><tspan x="82.82" textLength="98.74" lengthAdjust="spacingAndGlyphs">SOUTH KOREA</tspan></text>
<text y="1291.30"><tspan x="82.64" textLength="42.91" lengthAdjust="spacingAndGlyphs">CHINA</tspan></text>
</g>
<g fill="none" stroke="#d9d9d9" stroke-width="1.1">
<path d="M283.5,573H304.5Q307.5,573 307.5,576V598M307.5,622V646.5Q307.5,649.5 304.5,649.5H283.5"/>
<path d="M246.5,936.5H268Q271,936.5 271,939.5V951.5M271,975.5V987.5Q271,990.5 268,990.5H246.5"/>
<path d="M237,1087H259Q262,1087 262,1090V1112.5M262,1136.5V1158Q262,1161 259,1161H237"/>
<path d="M233,1174.5H256Q259,1174.5 259,1177.5V1199M259,1223V1247Q259,1250 256,1250H233"/>
<path d="M231.5,1253.75H252.5Q255.5,1253.75 255.5,1256.75V1260.5M255.5,1284.5V1297Q255.5,1300 252.5,1300H231.5"/>
</g>
<g class="vl">
<text y="331.45"><tspan x="667.28" textLength="41.22" lengthAdjust="spacingAndGlyphs">$2.58</tspan></text>
<text y="352.80"><tspan x="578.79" textLength="40.68" lengthAdjust="spacingAndGlyphs">$2.07</tspan></text>
<text y="374.15"><tspan x="486.70" textLength="37.18" lengthAdjust="spacingAndGlyphs">$1.54</tspan></text>
<text y="395.50"><tspan x="423.32" textLength="34.17" lengthAdjust="spacingAndGlyphs">$1.16</tspan></text>
<text y="416.85"><tspan x="403.56" textLength="36.60" lengthAdjust="spacingAndGlyphs">$1.05</tspan></text>
<text y="438.20"><tspan x="401.06" textLength="36.02" lengthAdjust="spacingAndGlyphs">$1.04</tspan></text>
<text y="459.55"><tspan x="346.04" textLength="40.10" lengthAdjust="spacingAndGlyphs">$0.72</tspan></text>
<text y="480.90"><tspan x="336.78" textLength="41.82" lengthAdjust="spacingAndGlyphs">$0.66</tspan></text>
<text y="502.25"><tspan x="317.29" textLength="40.80" lengthAdjust="spacingAndGlyphs">$0.53</tspan></text>
<text y="523.60"><tspan x="310.53" textLength="41.40" lengthAdjust="spacingAndGlyphs">$0.50</tspan></text>
<text y="544.95"><tspan x="296.80" textLength="37.36" lengthAdjust="spacingAndGlyphs">$0.41</tspan></text>
<text y="566.30"><tspan x="291.03" textLength="41.33" lengthAdjust="spacingAndGlyphs">$0.39</tspan></text>
<text y="673.05"><tspan x="281.78" textLength="41.31" lengthAdjust="spacingAndGlyphs">$0.34</tspan></text>
<text y="694.40"><tspan x="275.78" textLength="40.89" lengthAdjust="spacingAndGlyphs">$0.30</tspan></text>
<text y="715.75"><tspan x="272.29" textLength="40.71" lengthAdjust="spacingAndGlyphs">$0.28</tspan></text>
<text y="737.10"><tspan x="269.28" textLength="41.31" lengthAdjust="spacingAndGlyphs">$0.26</tspan></text>
<text y="758.45"><tspan x="265.78" textLength="41.81" lengthAdjust="spacingAndGlyphs">$0.24</tspan></text>
<text y="779.80"><tspan x="261.78" textLength="40.87" lengthAdjust="spacingAndGlyphs">$0.22</tspan></text>
<text y="801.15"><tspan x="260.55" textLength="37.36" lengthAdjust="spacingAndGlyphs">$0.21</tspan></text>
<text y="822.50"><tspan x="258.53" textLength="40.89" lengthAdjust="spacingAndGlyphs">$0.20</tspan></text>
<text y="843.85"><tspan x="256.80" textLength="37.50" lengthAdjust="spacingAndGlyphs">$0.19</tspan></text>
<text y="865.20"><tspan x="254.80" textLength="37.66" lengthAdjust="spacingAndGlyphs">$0.18</tspan></text>
<text y="886.55"><tspan x="252.80" textLength="37.35" lengthAdjust="spacingAndGlyphs">$0.17</tspan></text>
<text y="907.90"><tspan x="250.80" textLength="37.74" lengthAdjust="spacingAndGlyphs">$0.16</tspan></text>
<text y="929.25"><tspan x="249.61" textLength="36.80" lengthAdjust="spacingAndGlyphs">$0.15</tspan></text>
<text y="1014.65"><tspan x="244.80" textLength="38.31" lengthAdjust="spacingAndGlyphs">$0.12</tspan></text>
<text y="1036.00"><tspan x="243.57" textLength="34.82" lengthAdjust="spacingAndGlyphs">$0.11</tspan></text>
<text y="1057.35"><tspan x="240.55" textLength="38.07" lengthAdjust="spacingAndGlyphs">$0.10</tspan></text>
<text y="1078.70"><tspan x="239.78" textLength="40.82" lengthAdjust="spacingAndGlyphs">$0.09</tspan></text>
<text y="616.50"><tspan x="285.78" textLength="42.33" lengthAdjust="spacingAndGlyphs">$0.36</tspan></text>
<text y="970.00"><tspan x="249.00" textLength="38.08" lengthAdjust="spacingAndGlyphs">$0.14</tspan></text>
<text y="1131.00"><tspan x="239.29" textLength="40.71" lengthAdjust="spacingAndGlyphs">$0.08</tspan></text>
<text y="1217.50"><tspan x="236.79" textLength="40.80" lengthAdjust="spacingAndGlyphs">$0.06</tspan></text>
<text y="1279.00"><tspan x="233.53" textLength="41.17" lengthAdjust="spacingAndGlyphs">$0.05</tspan></text>
</g>
<g font-weight="700" filter="url(#badge)" fill="#e9fffd">
<text y="321.2" font-size="41.4" ><tspan x="875.52" textLength="16.20" lengthAdjust="spacingAndGlyphs">$</tspan><tspan x="893.06" textLength="15.99" lengthAdjust="spacingAndGlyphs">4</tspan><tspan x="910.03" textLength="12.99" lengthAdjust="spacingAndGlyphs">.</tspan><tspan x="922.83" textLength="16.34" lengthAdjust="spacingAndGlyphs">3</tspan><tspan x="939.82" textLength="12.19" lengthAdjust="spacingAndGlyphs">1</tspan></text>
</g>
<g fill="none" stroke="#dcdcdc" stroke-width="1.2" stroke-linecap="round" stroke-linejoin="round">
<path d="M793.75,404V382C793.75,366 803,355 819,345.2C830,339 845,333.5 860,327.2"/><path d="M858.4,322.8L865.6,324.7L861.8,331Z" fill="#e6e6e6" stroke-width=".5"/>
<path d="M910.9,403.6V338"/><path d="M906.2,339.3L910.9,335.5L915.6,339.3Z" fill="#e6e6e6" stroke-width=".5"/>
</g>
<g font-size="24.5" fill="#e2e2e2">
<text y="426.8"><tspan x="522.20" textLength="38.60" lengthAdjust="spacingAndGlyphs">The</tspan> <tspan font-weight="700" fill="#f6f6f6"><tspan x="566.42" textLength="48.37" lengthAdjust="spacingAndGlyphs">UAE</tspan></tspan> <tspan x="619.39" textLength="44.26" lengthAdjust="spacingAndGlyphs">only</tspan> <tspan x="670.31" textLength="36.91" lengthAdjust="spacingAndGlyphs">has</tspan> <tspan x="713.42" textLength="39.14" lengthAdjust="spacingAndGlyphs">two</tspan> <tspan x="759.46" textLength="57.93" lengthAdjust="spacingAndGlyphs">state</tspan></text>
<text y="455.2"><tspan x="527.58" textLength="110.17" lengthAdjust="spacingAndGlyphs">providers,</tspan> <tspan x="643.44" textLength="100.17" lengthAdjust="spacingAndGlyphs">resulting</tspan> <tspan x="749.17" textLength="16.61" lengthAdjust="spacingAndGlyphs">in</tspan> <tspan x="772.69" textLength="38.03" lengthAdjust="spacingAndGlyphs">the</tspan></text>
<text y="484"><tspan x="511.43" textLength="70.79" lengthAdjust="spacingAndGlyphs">world’s</tspan> <tspan x="587.94" textLength="47.72" lengthAdjust="spacingAndGlyphs">most</tspan> <tspan x="642.63" textLength="102.48" lengthAdjust="spacingAndGlyphs">expensive</tspan> <tspan x="749.95" textLength="77.53" lengthAdjust="spacingAndGlyphs">internet</tspan></text>
</g>
<text font-weight="700" font-size="29.8" fill="#f6f6f6" y="433"><tspan x="871.31" textLength="77.18" lengthAdjust="spacingAndGlyphs">PRICE</tspan></text>
<text font-size="20.6" fill="#ececec" stroke="#ececec" stroke-width=".35" y="457"><tspan x="856.57" textLength="36.65" lengthAdjust="spacingAndGlyphs">(USD</tspan> <tspan x="896.56" textLength="21.19" lengthAdjust="spacingAndGlyphs">per</tspan> <tspan x="921.22" textLength="43.24" lengthAdjust="spacingAndGlyphs">Mbps)</tspan></text>
<g fill="#f7f7f7" stroke="#f7f7f7" stroke-width="1.2">
<text y="710.7" font-size="73.7" ><tspan x="406.79" textLength="27.44" lengthAdjust="spacingAndGlyphs">T</tspan><tspan x="455.25" textLength="29.48" lengthAdjust="spacingAndGlyphs">H</tspan><tspan x="504.49" textLength="26.95" lengthAdjust="spacingAndGlyphs">E</tspan><tspan> </tspan><tspan x="585.20" textLength="25.54" lengthAdjust="spacingAndGlyphs">C</tspan><tspan x="633.75" textLength="25.41" lengthAdjust="spacingAndGlyphs">O</tspan><tspan x="685.19" textLength="26.65" lengthAdjust="spacingAndGlyphs">S</tspan><tspan x="730.29" textLength="27.44" lengthAdjust="spacingAndGlyphs">T</tspan><tspan> </tspan><tspan x="812.40" textLength="26.21" lengthAdjust="spacingAndGlyphs">O</tspan><tspan x="862.24" textLength="27.24" lengthAdjust="spacingAndGlyphs">F</tspan></text>
<text y="1022.7" font-size="73.7" ><tspan x="396.15" textLength="15.19" lengthAdjust="spacingAndGlyphs">I</tspan><tspan x="429.47" textLength="32.84" lengthAdjust="spacingAndGlyphs">N</tspan><tspan> </tspan><tspan x="510.76" textLength="29.18" lengthAdjust="spacingAndGlyphs">2</tspan><tspan x="560.71" textLength="28.27" lengthAdjust="spacingAndGlyphs">0</tspan><tspan x="608.37" textLength="29.05" lengthAdjust="spacingAndGlyphs">2</tspan><tspan x="657.27" textLength="26.74" lengthAdjust="spacingAndGlyphs">5</tspan></text>
</g>
<rect x="402.2" y="733.1" width="490.8" height="3.3" fill="#f2f2f2"/>
<rect x="402.2" y="1050.5" width="490.8" height="3.3" fill="#f2f2f2"/>
<g filter="url(#fat)" fill="#fff" font-weight="700">
<text y="937" font-size="266" ><tspan x="404.43" textLength="23.15" lengthAdjust="spacingAndGlyphs">I</tspan><tspan x="439.89" textLength="62.77" lengthAdjust="spacingAndGlyphs">N</tspan><tspan x="515.92" textLength="47.72" lengthAdjust="spacingAndGlyphs">T</tspan><tspan x="580.68" textLength="37.09" lengthAdjust="spacingAndGlyphs">E</tspan><tspan x="636.90" textLength="52.90" lengthAdjust="spacingAndGlyphs">R</tspan><tspan x="707.04" textLength="63.26" lengthAdjust="spacingAndGlyphs">N</tspan><tspan x="786.39" textLength="36.02" lengthAdjust="spacingAndGlyphs">E</tspan><tspan x="838.94" textLength="46.68" lengthAdjust="spacingAndGlyphs">T</tspan></text>
</g>
<g id="router">
<path d="M775.2,824.5Q778.2,820.1 781.2,824.5L781.7,872Q784.4000000000001,896 784.0,908L783.0,962H773.4000000000001L772.4000000000001,908Q772.0,896 774.7,872Z" fill="#000" opacity=".28" filter="url(#sh)" transform="translate(-2.6,1.5)"/>
<path d="M862.8,840Q865.8,835.6 868.8,840L869.3,882Q872.0,906 871.5999999999999,918L870.5999999999999,979H861.0L860.0,918Q859.5999999999999,906 862.3,882Z" fill="#000" opacity=".28" filter="url(#sh)" transform="translate(-2.6,1.5)"/>
<path d="M775.2,824.5Q778.2,820.1 781.2,824.5L781.7,872Q784.4000000000001,896 784.0,908L783.0,962H773.4000000000001L772.4000000000001,908Q772.0,896 774.7,872Z" fill="url(#ant)"/>
<path d="M862.8,840Q865.8,835.6 868.8,840L869.3,882Q872.0,906 871.5999999999999,918L870.5999999999999,979H861.0L860.0,918Q859.5999999999999,906 862.3,882Z" fill="url(#ant)"/>
<path d="M693.2,993.5Q692.6,998 696,1001L838,1035.4Q843,1036.4 848,1034.4L894,1000Q897.6,997 897.2,991L896.4,986.6L842.6,1024L693.6,992Z" fill="#d3d3d6"/>
<path d="M842.6,1024L896.4,986.6L897.2,991Q897.6,997 894,1000L848,1034.4Q845,1035.6 842.6,1035.6Z" fill="#c2c2c6"/>
<path d="M696,990.2L753,959.6Q757.6,957.4 762,958.2L892,983.6Q898.6,985.2 894.6,988.8L848,1021.6Q843,1024.8 837,1023.6L697.6,994.6Q691.6,993 696,990.2Z" fill="#f3f3f5"/>
<ellipse cx="808" cy="1002" rx="25" ry="17" fill="url(#glow)"/>
<rect x="737.0" y="992.0" width="2" height="1.3" fill="#b9b9bd"/>
<rect x="745.6" y="993.5" width="2" height="1.3" fill="#b9b9bd"/>
<rect x="754.2" y="995.1" width="2" height="1.3" fill="#b9b9bd"/>
<rect x="762.8" y="996.6" width="2" height="1.3" fill="#b9b9bd"/>
<rect x="771.4" y="998.2" width="2" height="1.3" fill="#b9b9bd"/>
<rect x="780.0" y="999.8" width="2" height="1.3" fill="#b9b9bd"/>
<rect x="788.6" y="1001.3" width="2" height="1.3" fill="#b9b9bd"/>
<rect x="797.2" y="1002.9" width="2" height="1.3" fill="#b9b9bd"/>
<rect x="808" y="1003" width="1.6" height="4" fill="#4fe38a"/>
</g>
<g font-weight="700" font-size="50.1" fill="#f5f5f5">
<text y="1110.9"><tspan x="400.48" textLength="129.96" lengthAdjust="spacingAndGlyphs">Median</tspan> <tspan x="547.29" textLength="98.11" lengthAdjust="spacingAndGlyphs">price</tspan> <tspan x="661.81" textLength="56.33" lengthAdjust="spacingAndGlyphs">per</tspan> <tspan x="737.89" textLength="85.34" lengthAdjust="spacingAndGlyphs">Mb/s</tspan> <tspan x="842.03" textLength="35.50" lengthAdjust="spacingAndGlyphs">of</tspan></text>
<text y="1166.7"><tspan x="402.10" textLength="81.60" lengthAdjust="spacingAndGlyphs">fixed</tspan> <tspan x="496.76" textLength="191.28" lengthAdjust="spacingAndGlyphs">broadband</tspan> <tspan x="699.85" textLength="186.16" lengthAdjust="spacingAndGlyphs">bandwidth</tspan></text>
</g>
</svg></body></html>
